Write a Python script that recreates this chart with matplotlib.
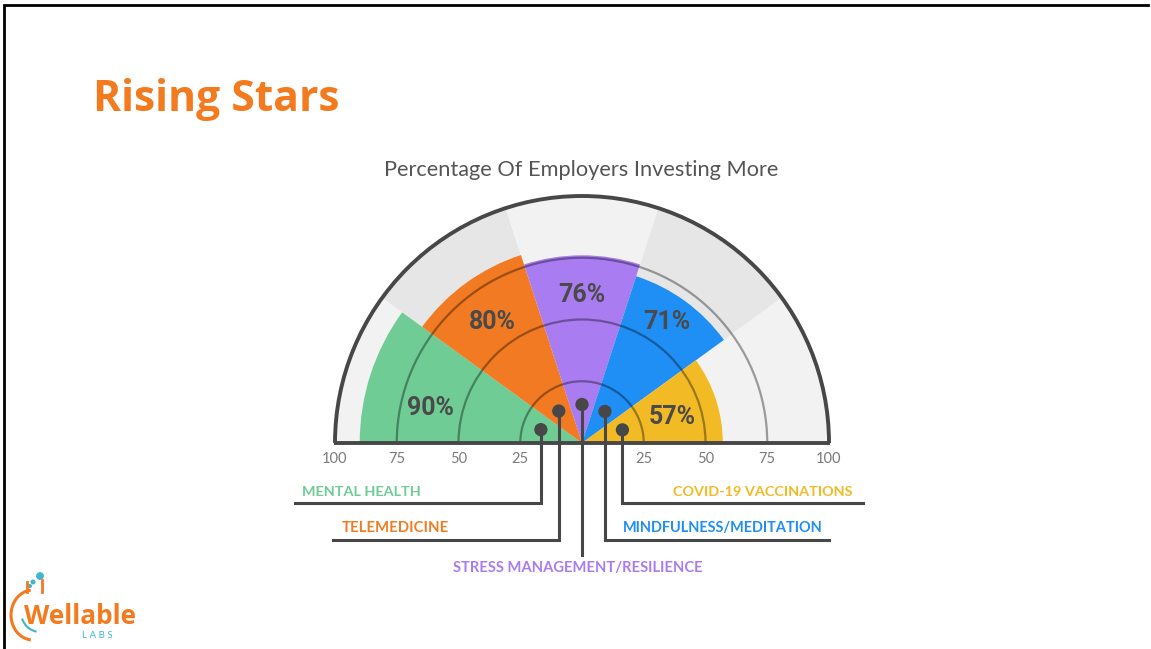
import numpy as np
import matplotlib
matplotlib.use("Agg")
import matplotlib.pyplot as plt
from matplotlib.patches import Wedge, Arc, Circle

# ---------------- data ----------------
categories = ["MENTAL HEALTH", "TELEMEDICINE", "STRESS MANAGEMENT/RESILIENCE",
              "MINDFULNESS/MEDITATION", "COVID-19 VACCINATIONS"]
values = [90, 80, 76, 71, 57]
value_labels = ["90%", "80%", "76%", "71%", "57%"]
tick_values = [100, 75, 50, 25]
tick_labels = ["100", "75", "50", "25"]
title = "Rising Stars"
subtitle = "Percentage Of Employers Investing More"

# ---------------- style ----------------
colors = ["#6fcc95", "#f27a22", "#a97cf2", "#1f8ff5", "#f2bb26"]
bg_colors = ["#f2f2f2", "#e6e6e6", "#f2f2f2", "#e6e6e6", "#f2f2f2"]
dark = "#474747"

W, H, DPI = 1151, 649, 100
fig = plt.figure(figsize=(W / DPI, H / DPI), dpi=DPI)
ax = fig.add_axes([0, 0, 1, 1])
CX, CY, S = 582.0, 443.0, 2.47   # centre pixel and pixels per unit
ax.set_xlim(-CX / S, (W - CX) / S)
ax.set_ylim(-(H - CY) / S, CY / S)
ax.axis("off")

def P(px, py):
    """pixel position (from top-left) -> data coords"""
    return ((px - CX) / S, (CY - py) / S)

renderer = fig.canvas.get_renderer()

def fit_text(x, y, s, target_w, **kw):
    t = ax.text(x, y, s, **kw)
    fs = t.get_fontsize()
    w = t.get_window_extent(renderer).width
    t.set_fontsize(fs * target_w / w)
    return t

n = len(values)
step = 180.0 / n
R = 100

# background wedges
for i in range(n):
    a1 = 180 - step * (i + 1)
    a2 = 180 - step * i
    ax.add_patch(Wedge((0, 0), R, a1, a2, facecolor=bg_colors[i], edgecolor="none", zorder=1))

# value wedges
for i, v in enumerate(values):
    a1 = 180 - step * (i + 1)
    a2 = 180 - step * i
    ax.add_patch(Wedge((0, 0), v, a1, a2, facecolor=colors[i], edgecolor="none", zorder=2))

# grid arcs
for r in [25, 50, 75]:
    ax.add_patch(Arc((0, 0), 2 * r, 2 * r, theta1=0, theta2=180,
                     color="black", alpha=0.36, lw=1.6, zorder=3))

# outer arc and baseline
ax.add_patch(Arc((0, 0), 2 * R, 2 * R, theta1=0, theta2=180, color=dark, lw=2.8, zorder=4))
ax.plot([-R - 0.6, R + 0.6], [0, 0], color=dark, lw=2.8, zorder=4, solid_capstyle="butt")

# tick labels
for tv, tl in zip(tick_values, tick_labels):
    for sgn in (-1, 1):
        ax.text(sgn * tv, -6.5, tl, ha="center", va="center", fontsize=10.5,
                color="#7a7a7a", family="Lato", zorder=5)

# value labels
label_r = [63, 61, 60, 60, 38]
label_ang = [167, 126.5, 90, 55, 16]
for i, lab in enumerate(value_labels):
    a = np.deg2rad(label_ang[i])
    ax.text(label_r[i] * np.cos(a), label_r[i] * np.sin(a), lab, ha="center", va="center",
            fontsize=18, fontweight="bold", color="#4a4a4a",
            family=["Roboto", "DejaVu Sans"], zorder=6)

# leader lines & dots
dot_r = [17.5, 16.0, 15.6, 15.8, 17.2]
line_y = [-24.3, -39.3, -45.3, -39.3, -24.3]
line_end = [-116.2, -100.8, None, 99.8, 113.6]
for i in range(n):
    a = np.deg2rad(180 - step * (i + 0.5))
    dx, dy = dot_r[i] * np.cos(a), dot_r[i] * np.sin(a)
    xs = [dx, dx]
    ys = [dy, line_y[i]]
    if line_end[i] is not None:
        xs.append(line_end[i])
        ys.append(line_y[i])
    ax.plot(xs, ys, color=dark, lw=2.2, zorder=7, solid_joinstyle="miter")
    ax.add_patch(Circle((dx, dy), 2.4, color=dark, zorder=8))

# category labels
lab_font = dict(fontsize=10.5, fontweight="bold", family="Lato", va="center", zorder=8)
x, y = P(302, 492)
fit_text(x, y, categories[0], 119, ha="left", color=colors[0], **lab_font)
x, y = P(342, 528)
fit_text(x, y, categories[1], 106, ha="left", color=colors[1], **lab_font)
x, y = P(578, 568)
fit_text(x, y, categories[2], 250, ha="center", color=colors[2], **lab_font)
x, y = P(823, 528)
fit_text(x, y, categories[3], 201, ha="right", color=colors[3], **lab_font)
x, y = P(853, 492)
fit_text(x, y, categories[4], 180, ha="right", color=colors[4], **lab_font)

# title and subtitle
x, y = P(93, 100)
fit_text(x, y, title, 247, ha="left", va="center", fontsize=30, fontweight="bold",
         color="#f47a1f", family="Open Sans")
x, y = P(581, 170)
fit_text(x, y, subtitle, 392, ha="center", va="center", fontsize=13,
         color="#555555", family="Lato")

# logo
x, y = P(80, 617)
fit_text(x, y, "Wellable", 112, ha="center", va="center", fontsize=20, fontweight="bold",
         color="#f47a1f", family="Open Sans")
x, y = P(97, 636)
ax.text(x, y, "L A B S", ha="center", va="center", fontsize=7, color="#3fb6cc", family="Lato")
cx_, cy_ = P(33, 615)
ax.add_patch(Arc((cx_, cy_), 44 / S, 50 / S, theta1=95, theta2=265, color="#f47a1f", lw=2.2))
ax.plot(*zip(P(27, 592), P(27, 582)), color="#f47a1f", lw=2)
ax.plot(*zip(P(42, 592), P(42, 580)), color="#f47a1f", lw=2)
ax.add_patch(Arc(P(40, 612), 38 / S, 40 / S, theta1=200, theta2=260, color="#3fb6cc", lw=1.5))
for (bx, by, br) in [(40, 576, 3.2), (33, 582, 1.8), (30, 586, 1.3)]:
    ax.add_patch(Circle(P(bx, by), br / S, color="#3fb6cc"))

# frame (top & left)
ax.plot(*zip(P(4, 649), P(4, 5), P(1148, 5)), color="black", lw=2.0,
        solid_joinstyle="miter", clip_on=False)

fig.savefig("out.png", dpi=DPI)
